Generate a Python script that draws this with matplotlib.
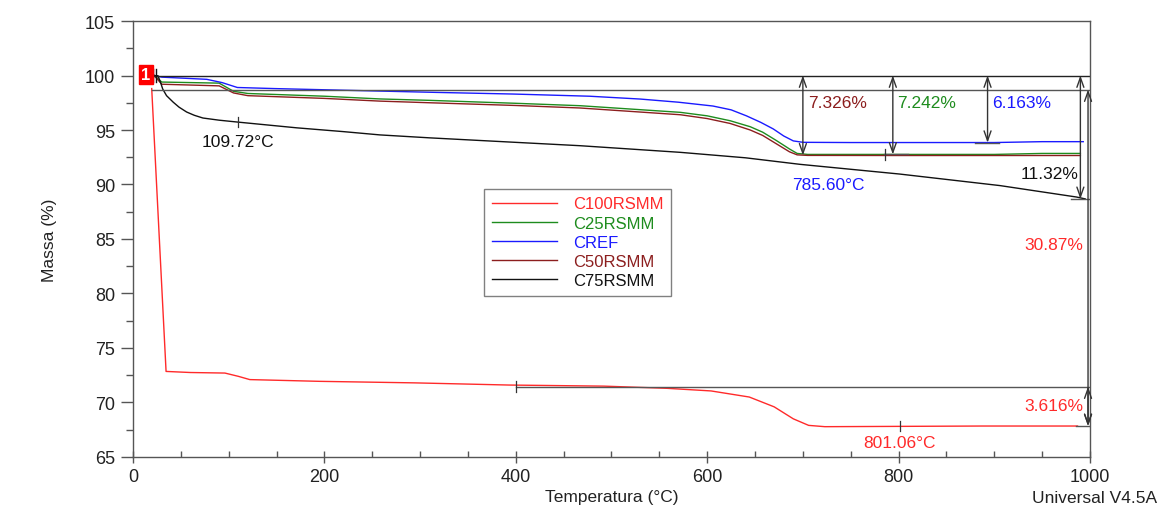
import matplotlib
matplotlib.use("Agg")
import matplotlib.pyplot as plt
from matplotlib.ticker import MultipleLocator

plt.rcParams['font.family'] = ['Liberation Sans', 'DejaVu Sans']

# ---------------- data ----------------
series_names = ["C100RSMM", "C25RSMM", "CREF", "C50RSMM", "C75RSMM"]
series_colors = ["#ff2a2a", "#1e8c1e", "#1a1aff", "#8c1e1e", "#111111"]

t_c100 = [19.5, 34.5, 60, 96, 110, 122, 195, 294, 393, 492, 558, 604, 644, 670, 690, 706, 723, 888, 987]
m_c100 = [98.8, 72.85, 72.75, 72.7, 72.4, 72.1, 71.94, 71.8, 71.6, 71.5, 71.3, 71.06, 70.5, 69.6, 68.5, 67.9, 67.78, 67.84, 67.84]

t_c25 = [22, 30, 90, 105, 120, 200, 258, 310, 400, 467, 572, 600, 624, 645, 658, 672, 686, 694, 705, 750, 900, 950, 990]
m_c25 = [100.0, 99.4, 99.3, 98.55, 98.35, 98.1, 97.85, 97.72, 97.45, 97.23, 96.62, 96.3, 95.85, 95.3, 94.8, 94.05, 93.26, 92.85, 92.76, 92.76, 92.76, 92.85, 92.85]

t_cref = [22, 30, 77, 93, 109, 148, 220, 317, 397, 477, 530, 570, 606, 625, 641, 656, 669, 680, 690, 700, 750, 850, 900, 950, 993]
m_cref = [100.0, 99.85, 99.65, 99.35, 98.9, 98.8, 98.65, 98.45, 98.3, 98.1, 97.84, 97.55, 97.2, 96.85, 96.3, 95.7, 95.1, 94.45, 94.0, 93.87, 93.85, 93.85, 93.85, 93.93, 93.93]

t_c50 = [22, 30, 90, 105, 120, 200, 258, 310, 400, 467, 572, 600, 624, 645, 658, 672, 686, 694, 705, 800, 990]
m_c50 = [100.0, 99.2, 99.05, 98.4, 98.15, 97.9, 97.65, 97.5, 97.25, 97.02, 96.4, 96.05, 95.6, 95.0, 94.5, 93.75, 93.0, 92.72, 92.67, 92.66, 92.66]

t_c75 = [21, 26, 29, 31, 35, 42, 48, 56, 64, 73, 90, 109, 171, 220, 258, 310, 360, 467, 572, 640, 697, 801, 906, 986, 995]
m_c75 = [100.0, 99.98, 99.3, 98.76, 98.15, 97.55, 97.1, 96.65, 96.35, 96.1, 95.9, 95.73, 95.2, 94.85, 94.55, 94.28, 94.05, 93.56, 92.95, 92.45, 91.85, 90.96, 89.9, 88.85, 88.68]

temps = [t_c100, t_c25, t_cref, t_c50, t_c75]
masses = [m_c100, m_c25, m_cref, m_c50, m_c75]

# step annotations
step_x = [700, 794, 893, 990, 998, 998]
step_top = [100.0, 100.0, 100.0, 100.0, 98.71, 71.46]
step_bot = [92.674, 92.758, 93.837, 88.68, 67.84, 67.844]
step_labels = ["7.326%", "7.242%", "6.163%", "11.32%", "30.87%", "3.616%"]
step_colors = ["#8c1e1e", "#1e8c1e", "#1a1aff", "#111111", "#ff2a2a", "#ff2a2a"]
step_lx = [705, 799, 898, 988, 993, 993]
step_ly = [97.55, 97.55, 97.55, 91.0, 84.5, 69.7]
step_ha = ["left", "left", "left", "right", "right", "right"]

temp_marks = [109.72, 785.60, 801.06]
temp_mark_y = [95.73, 92.76, 67.84]
temp_labels = ["109.72°C", "785.60°C", "801.06°C"]
temp_colors = ["#111111", "#1a1aff", "#ff2a2a"]
temp_label_y = [93.9, 90.0, 66.3]
temp_label_x = [109.72, 727, 801.06]

# ---------------- figure ----------------
fig = plt.figure(figsize=(11.61, 5.06), dpi=100)
ax = fig.add_axes([0.1146, 0.0949, 0.8242, 0.8616])

for t, m, c, n in zip(temps, masses, series_colors, series_names):
    ax.plot(t, m, color=c, lw=1.0, label=n)

# reference horizontal lines
ax.plot([20, 1000], [100, 100], color="#222222", lw=1.0)
ax.plot([20, 1003], [98.71, 98.71], color="#555555", lw=1.0)
ax.plot([400, 1000], [71.46, 71.46], color="#555555", lw=1.0)
ax.plot([985, 1000], [67.84, 67.84], color="#555555", lw=1.0)
ax.plot([980, 1000], [88.68, 88.68], color="#555555", lw=1.0)
ax.plot([880, 905], [93.84, 93.84], color="#555555", lw=1.0)
ax.plot([785, 810], [92.76, 92.76], color="#555555", lw=1.0)
ax.plot([400, 400], [71.0, 72.0], color="#333333", lw=0.9)

# double-headed arrows
for x, t0, b0, lab, col, lx, ly, ha in zip(step_x, step_top, step_bot, step_labels,
                                           step_colors, step_lx, step_ly, step_ha):
    ax.annotate("", xy=(x, b0), xytext=(x, t0),
                arrowprops=dict(arrowstyle="<->,head_length=0.7,head_width=0.25",
                                color="#333333", lw=1.0, shrinkA=0, shrinkB=0))
    ax.text(lx, ly, lab, color=col, fontsize=12.5, ha=ha, va="center")

# temperature markers
for tm, ty, tl, tc, lx, ly in zip(temp_marks, temp_mark_y, temp_labels, temp_colors,
                                  temp_label_x, temp_label_y):
    ax.plot([tm, tm], [ty - 0.5, ty + 0.5], color="#333333", lw=0.9)
    ax.text(lx, ly, tl, color=tc, fontsize=12.5, ha="center", va="center")

# start marker
ax.plot([21, 21], [99.4, 100.6], color="#111111", lw=1.0)
ax.plot([24, 24], [99.4, 100.6], color="#111111", lw=1.0)
ax.text(13.5, 100.05, "1", color="white", fontsize=12, fontweight="bold",
        ha="center", va="center",
        bbox=dict(facecolor="#ff0000", edgecolor="#ff0000", boxstyle="square,pad=0.12"))

# axes formatting
ax.set_xlim(0, 1000)
ax.set_ylim(65, 105)
ax.xaxis.set_major_locator(MultipleLocator(200))
ax.xaxis.set_minor_locator(MultipleLocator(50))
ax.yaxis.set_major_locator(MultipleLocator(5))
ax.yaxis.set_minor_locator(MultipleLocator(2.5))
ax.tick_params(axis="y", which="major", direction="out", length=9, width=1, labelsize=13,
               colors="#555555", labelcolor="#222222", pad=4)
ax.tick_params(axis="y", which="minor", direction="out", length=5, width=1, colors="#555555")
ax.tick_params(axis="x", which="major", direction="inout", length=8, width=1, labelsize=13,
               colors="#555555", labelcolor="#222222", pad=4)
ax.tick_params(axis="x", which="minor", direction="in", length=4, width=1, colors="#555555")
for s in ax.spines.values():
    s.set_color("#555555")
    s.set_linewidth(1.0)

ax.set_ylabel("Massa (%)", fontsize=12.5, color="#222222", labelpad=20)
ax.set_xlabel("Temperatura (°C)", fontsize=12.5, color="#222222", labelpad=3)
fig.text(0.997, 0.0, "Universal V4.5A", fontsize=12.5, color="#222222", ha="right", va="bottom")

leg = ax.legend(loc="upper left", bbox_to_anchor=(0.367, 0.615), fontsize=12,
                frameon=True, fancybox=False, edgecolor="#808080", framealpha=1,
                handlelength=3.9, handletextpad=1.0, labelspacing=0.25, borderpad=0.45,
                borderaxespad=0)
leg.get_frame().set_linewidth(1.0)
for txt, c in zip(leg.get_texts(), series_colors):
    txt.set_color(c)

fig.savefig("out.png", dpi=100)
